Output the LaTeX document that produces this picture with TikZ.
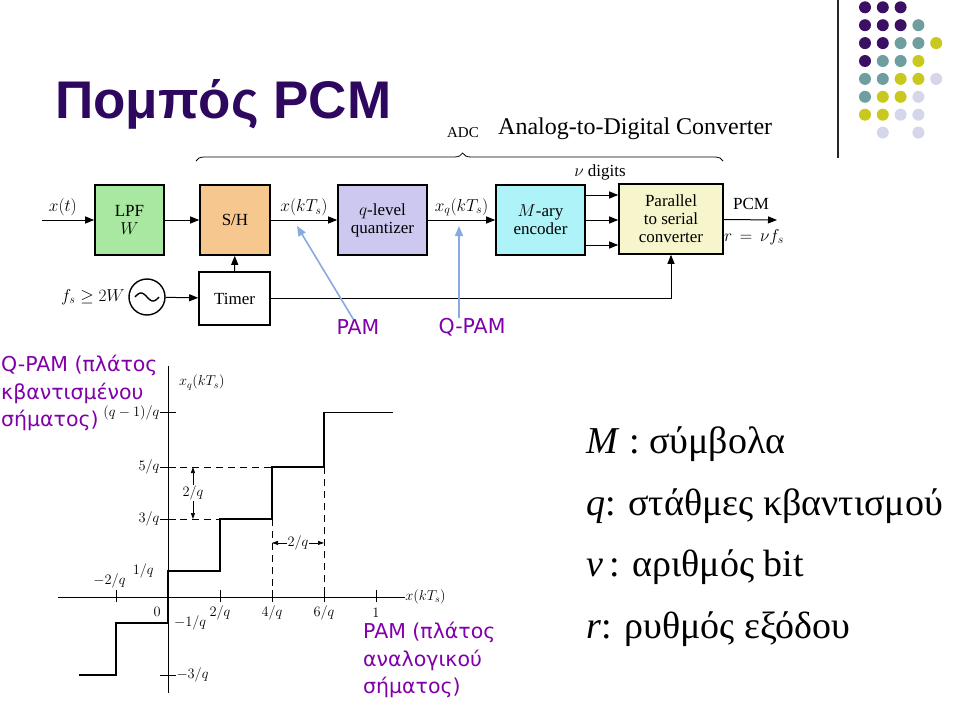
\documentclass[tikz,border=0pt]{standalone}
\usepackage{fontspec}
\setmainfont{Liberation Serif}
\newfontfamily\grsans{DejaVu Sans}
\newfontfamily\titlefont{Liberation Sans}
\usetikzlibrary{arrows.meta,decorations.pathreplacing}

\definecolor{lpfgreen}{RGB}{168,232,160}
\definecolor{shorange}{RGB}{246,200,144}
\definecolor{qlilac}{RGB}{205,200,240}
\definecolor{enccyan}{RGB}{174,243,247}
\definecolor{convyellow}{RGB}{247,245,204}
\definecolor{notepurple}{RGB}{128,0,170}
\definecolor{titlepurple}{RGB}{46,8,94}
\definecolor{pointblue}{RGB}{135,170,225}
\definecolor{dotP}{RGB}{59,15,100}
\definecolor{dotT}{RGB}{111,158,160}
\definecolor{dotY}{RGB}{200,200,31}
\definecolor{dotL}{RGB}{214,214,234}

\begin{document}
\begin{tikzpicture}[x=1pt,y=-1pt,
    block/.style={draw, line width=1.6pt, minimum height=70pt, align=center,
      font=\fontsize{17}{18}\selectfont, inner sep=2pt},
    sig/.style={line width=1pt, -{Triangle[length=9pt,width=7pt]}},
    point/.style={line width=1.6pt, pointblue, -{Triangle[length=10pt,width=8pt]}},
    note/.style={font=\grsans\fontsize{20.5}{27.5}\selectfont, text=notepurple,
      align=left, inner sep=0pt},
    lbl/.style={font=\fontsize{17}{18}\selectfont},
    tck/.style={font=\fontsize{14}{16}\selectfont, inner sep=0.5pt}]

  \useasboundingbox (0,0) rectangle (959,709);

  % title and corner dots
  \node[anchor=base west, inner sep=0pt, text=titlepurple,
    font=\titlefont\bfseries\fontsize{53}{60}\selectfont] (title) at (55,118) {Πομπός PCM};
  \draw[line width=1.5pt, black!85] (838,0) -- (838,158);
  \foreach \r/\row in {1/{P,P,P}, 2/{P,P,P,T}, 3/{P,P,T,T,Y}, 4/{P,T,T,Y},
                       5/{T,T,Y,Y,L}, 6/{T,Y,Y,L}, 7/{Y,Y,L,L}}
    \foreach \c [count=\i] in \row
      \fill[dot\c] ({865+17.8*(\i-1)},{7.3+17.9*(\r-1)}) circle (6);
  \fill[dotL] (882.8,132.6) circle (6);
  \fill[dotL] (918.4,132.6) circle (6);

  % ADC brace
  \draw[line width=0.8pt, decorate, decoration={brace, amplitude=8pt, aspect=0.506}]
    (196,161) -- (723,161);
  \node[font=\fontsize{15}{16}\selectfont] (adc) at (463,133) {ADC};
  \node[font=\fontsize{24}{26}\selectfont, anchor=west, inner sep=0pt] (adcname) at (498,129) {Analog-to-Digital Converter};

  % blocks
  \node[block, fill=lpfgreen, minimum width=69pt] (lpf) at (129.5,220) {LPF\\$W$};
  \node[block, fill=shorange, minimum width=70pt] (sh) at (235,220) {S/H};
  \node[block, minimum width=71pt, minimum height=53pt] (timer) at (234.5,298.5) {Timer};
  \node[block, fill=qlilac, minimum width=89pt] (quant) at (382.5,220) {$q$-level\\quantizer};
  \node[block, fill=enccyan, minimum width=89pt] (enc) at (540.5,220) {$M$-ary\\encoder};
  \node[block, fill=convyellow, minimum width=104pt] (conv) at (671,219) {Parallel\\to serial\\converter};
  \node[draw, circle, line width=1.4pt, minimum size=36pt] (osc) at (147,297) {};
  \draw[line width=1.4pt, shift={(osc.center)}] plot[domain=-12:12, samples=40] (\x,{4*sin(\x*15)});

  \coordinate (xin) at (42,220);
  \coordinate (pcmout) at (777,220);

  % connections
  \draw[sig] (xin) -- node[lbl, above, pos=0.4] {$x(t)$} (lpf);
  \draw[sig] (lpf) -- (sh);
  \draw[sig] (sh) -- node[lbl, above] {$x(kT_s)$} (quant);
  \draw[sig] (quant) -- node[lbl, above] {$x_q(kT_s)$} (enc);
  \foreach \dy in {-25,0,25}
    \draw[sig] ([yshift=\dy pt]enc.east) -- ([yshift=\dy pt]enc.east -| conv.west);
  \node[lbl] (digits) at (600,172) {$\nu$ digits};
  \draw[sig] (conv) -- (pcmout);
  \node[lbl] (pcmlbl) at (751,204) {PCM};
  \node[lbl] (ratelbl) at (754,237) {$r\,=\,\nu f_s$};
  \node[lbl, anchor=east] (fslbl) at (osc.west) {$f_s \geq 2W$};
  \draw[sig] (osc) -- (timer);
  \draw[sig] (timer) -- (sh);
  \draw[sig] (timer.east) -| (conv.south);

  % PAM pointers
  \node[note] (pam) at (358,327) {PAM};
  \node[note] (qpam) at (472,327) {Q-PAM};
  \coordinate (pamtip) at (297,226);
  \coordinate (qpamtip) at (459,226);
  \draw[point] (pam) -- (pamtip);
  \draw[point] (qpamtip |- qpam.north) -- (qpamtip);

  \node[note, anchor=north west] (qpamnote) at (1,355) {Q-PAM (πλάτος\\κβαντισμένου\\σήματος)};
  \node[note, anchor=north west] (pamnote) at (363,622) {PAM (πλάτος\\αναλογικού\\σήματος)};

  % quantizer characteristic
  \begin{scope}[shift={(168,597)}, x=26pt, y=26pt]
    \draw[line width=0.7pt] (-4.23,0) -- (9.1,0) node[tck, right] {$x(kT_s)$};
    \draw[line width=0.7pt] (0,-3.7) -- (0,8.9);
    \node[tck] (ylbl) at (1.3,8.25) {$x_q(kT_s)$};
    \foreach \t in {-2,2,4,6,8}
      \draw[line width=0.7pt] (\t,-0.2) -- (\t,0.27);
    \foreach \t in {7.1,5,3,-3}
      \draw[line width=0.7pt] (-0.3,\t) -- (0.3,\t);
    \draw[line width=1.6pt] (-3.42,-3) -- (-2,-3) -- (-2,-1) -- (0,-1) -- (0,1) -- (2,1)
      -- (2,3) -- (4,3) -- (4,5) -- (6,5) -- (6,7.1) -- (8.65,7.1);
    \draw[dashed, dash pattern=on 7pt off 5pt, line width=0.7pt] (0,3) -- (2,3);
    \draw[dashed, dash pattern=on 7pt off 5pt, line width=0.7pt] (0,5) -- (4,5);
    \draw[dashed, dash pattern=on 7pt off 5pt, line width=0.7pt] (4,3) -- (4,0);
    \draw[dashed, dash pattern=on 7pt off 5pt, line width=0.7pt] (6,5) -- (6,0);
    \draw[line width=0.7pt, {Triangle[length=6pt,width=4pt]}-{Triangle[length=6pt,width=4pt]}]
      (0.96,3) -- node[tck, fill=white] {$2/q$} (0.96,5);
    \draw[line width=0.7pt, {Triangle[length=6pt,width=4pt]}-{Triangle[length=6pt,width=4pt]}]
      (4,2.08) -- node[tck, fill=white] {$2/q$} (6,2.08);
    \node[tck, left] at (-0.3,7.1) {$(q-1)/q$};
    \node[tck, left] at (-0.3,5) {$5/q$};
    \node[tck, left] at (-0.3,3) {$3/q$};
    \node[tck] at (-0.95,1.0) {$1/q$};
    \node[tck] at (-2.25,0.62) {$-2/q$};
    \node[tck] at (-0.42,-0.58) {$0$};
    \node[tck] at (0.85,-0.98) {$-1/q$};
    \node[tck, right] at (0.3,-3) {$-3/q$};
    \foreach \t/\s in {2/{2/q},4/{4/q},6/{6/q},8/{1}}
      \node[tck] at (\t,-0.62) {$\s$};
  \end{scope}

  % legend
  \node[anchor=north west, align=left, inner sep=0pt, font=\fontsize{38}{61.5}\selectfont]
    (legend) at (586,427) {\textit{M} : σύμβολα\\\textit{q}: στάθμες κβαντισμού\\\textit{v}\,: αριθμός bit\\\textit{r}: ρυθμός εξόδου};
\end{tikzpicture}
\end{document}
